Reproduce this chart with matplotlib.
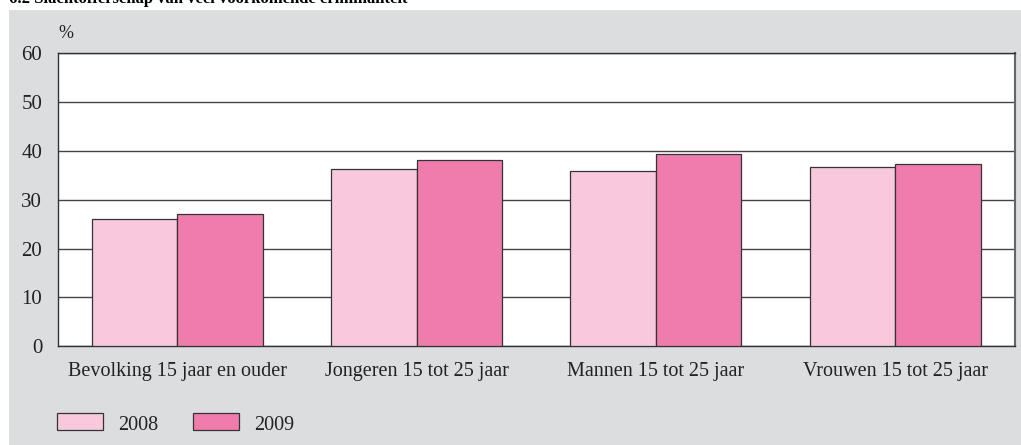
import matplotlib.pyplot as plt
import numpy as np
from matplotlib.patches import Rectangle

# Slachtofferschap per groep, in procenten
categories = ["Bevolking 15 jaar en ouder", "Jongeren 15 tot 25 jaar",
              "Mannen 15 tot 25 jaar", "Vrouwen 15 tot 25 jaar"]
values_2008 = [26.1, 36.3, 35.8, 36.7]
values_2009 = [27.0, 38.2, 39.3, 37.3]
years = ["2008", "2009"]
yticks = [0, 10, 20, 30, 40, 50, 60]

c08 = "#f8c9dd"
c09 = "#f07cae"
panel = "#dcdddf"
edge = "#333333"

plt.rcParams['font.family'] = ['Liberation Serif', 'DejaVu Serif']

fig = plt.figure(figsize=(10.21, 4.45), dpi=100)
W, H = 1021, 445

# grey panel behind the chart
fig.patches.append(Rectangle((9 / W, 0), 1 - 9 / W, 1 - 10 / H,
                             transform=fig.transFigure, facecolor=panel,
                             edgecolor="none", zorder=-5))

# chapter heading, cut off at the top of the page
fig.text(9 / W, 1 + 1 / H, "6.2 Slachtofferschap van veel voorkomende criminaliteit",
         fontsize=12, fontweight="bold", ha="left", va="center")

ax = fig.add_axes([57.5 / W, 1 - 346.3 / H, (1015 - 57.5) / W, (346.3 - 53.3) / H])
ax.set_zorder(2)
ax.set_facecolor("white")

x = np.arange(len(categories))
bw = 0.357
ax.bar(x - bw / 2, values_2008, bw, color=c08, edgecolor=edge, linewidth=0.9, zorder=3)
ax.bar(x + bw / 2, values_2009, bw, color=c09, edgecolor=edge, linewidth=0.9, zorder=3)

ax.set_xlim(-0.5, len(categories) - 0.5)
ax.set_ylim(0, 60)
ax.set_yticks(yticks)
ax.set_yticklabels([str(t) for t in yticks], fontsize=15, color="#222222")
ax.set_xticks(x)
ax.set_xticklabels(categories, fontsize=14.5, color="#222222")
ax.tick_params(length=0)
ax.tick_params(axis="y", pad=11)
ax.tick_params(axis="x", pad=11)
ax.yaxis.grid(True, color="#444444", linewidth=1.0, zorder=1)
ax.set_axisbelow(True)
for s in ax.spines.values():
    s.set_color("#333333")
    s.set_linewidth(1.0)
ax.spines["right"].set_color("#666666")
ax.spines["right"].set_linewidth(1.5)

fig.text(58 / W, 1 - 33 / H, "%", fontsize=13, color="#222222", ha="left", va="center")

# legend boxes along the bottom
lx = [57, 193]
for i, (yr, col) in enumerate(zip(years, [c08, c09])):
    fig.patches.append(Rectangle((lx[i] / W, 1 - 430 / H), 46 / W, 17 / H,
                                 transform=fig.transFigure, facecolor=col,
                                 edgecolor=edge, linewidth=0.9, zorder=2))
    fig.text((lx[i] + 61) / W, 1 - 425 / H, yr, fontsize=14.5, color="#222222",
             ha="left", va="center")

fig.savefig("out.png", dpi=100)
